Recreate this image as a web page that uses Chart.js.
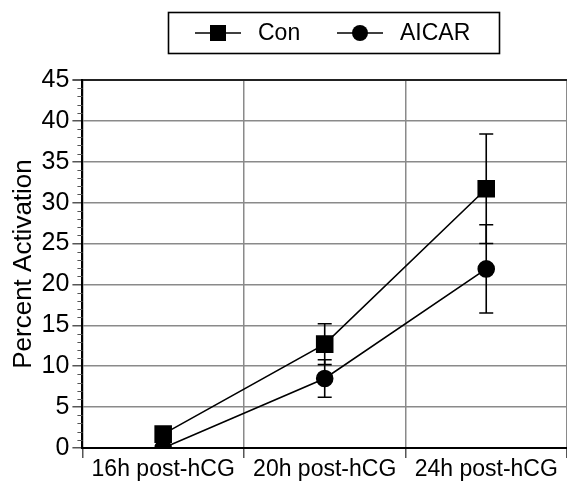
<!DOCTYPE html>
<html>
<head>
<meta charset="utf-8">
<script src="https://cdn.jsdelivr.net/npm/chart.js@4.4.0/dist/chart.umd.min.js"></script>
<style>
  html, body { margin: 0; padding: 0; background: #fff; overflow: hidden; }
  #wrap { width: 567px; height: 483px; position: relative; }
  canvas { display: block; }
</style>
</head>
<body>
<div id="wrap"><canvas id="chart"></canvas></div>
<script>
var labels = ['16h post-hCG', '20h post-hCG', '24h post-hCG'];
var conValues = [1.7, 12.7, 31.7];
var conErrors = [0.4, 2.5, 6.7];
var aicarValues = [0, 8.5, 21.9];
var aicarErrors = [0, 2.3, 5.4];
var yTicks = [0, 5, 10, 15, 20, 25, 30, 35, 40, 45];

var font = '"Liberation Sans", Arial, Helvetica, sans-serif';

// error bars drawn from the data arrays through the scales
var errorBars = {
    id: 'errorBars',
    afterDatasetsDraw: function (chart) {
        var ctx = chart.ctx;
        var y = chart.scales.y;
        ctx.save();
        ctx.strokeStyle = '#000';
        ctx.lineWidth = 1.6;
        chart.data.datasets.forEach(function (ds, i) {
            var meta = chart.getDatasetMeta(i);
            meta.data.forEach(function (pt, j) {
                var err = ds.errors[j];
                if (!err) return;
                var top = y.getPixelForValue(ds.data[j] + err);
                var bot = y.getPixelForValue(ds.data[j] - err);
                ctx.beginPath();
                ctx.moveTo(pt.x, top); ctx.lineTo(pt.x, bot);
                ctx.moveTo(pt.x - 7, top); ctx.lineTo(pt.x + 7, top);
                ctx.moveTo(pt.x - 7, bot); ctx.lineTo(pt.x + 7, bot);
                ctx.stroke();
            });
        });
        ctx.restore();
    }
};

// minor ticks on the y axis, one per unit
var minorTicks = {
    id: 'minorTicks',
    afterDraw: function (chart) {
        var ctx = chart.ctx;
        var y = chart.scales.y;
        var x0 = chart.chartArea.left;
        ctx.save();
        ctx.strokeStyle = '#555';
        ctx.lineWidth = 1;
        for (var v = y.min; v <= y.max; v++) {
            if (v % 5 === 0) continue;
            var py = Math.round(y.getPixelForValue(v)) + 0.5;
            ctx.beginPath();
            ctx.moveTo(x0 - 5, py); ctx.lineTo(x0, py);
            ctx.stroke();
        }
        ctx.restore();
    }
};

// boxed legend with line + marker samples
var boxLegend = {
    id: 'boxLegend',
    afterDraw: function (chart) {
        var ctx = chart.ctx;
        ctx.save();
        ctx.strokeStyle = '#000';
        ctx.lineWidth = 1.6;
        ctx.strokeRect(168.5, 12.5, 331, 41);
        var items = [
            { lineX: 195, text: 258 },
            { lineX: 337, text: 400 }
        ];
        chart.data.datasets.forEach(function (ds, i) {
            var it = items[i];
            var cy = 33;
            ctx.strokeStyle = '#000';
            ctx.lineWidth = 1.6;
            ctx.beginPath();
            ctx.moveTo(it.lineX, cy); ctx.lineTo(it.lineX + 46, cy);
            ctx.stroke();
            ctx.fillStyle = '#000';
            if (ds.pointStyle === 'rect') {
                ctx.fillRect(it.lineX + 15, cy - 8, 16, 16);
            } else {
                ctx.beginPath();
                ctx.arc(it.lineX + 23, cy, 8, 0, Math.PI * 2);
                ctx.fill();
            }
            ctx.font = '23px ' + font;
            ctx.textBaseline = 'middle';
            ctx.fillText(ds.label, it.text, cy + 1);
        });
        ctx.restore();
    }
};

var ctx = document.getElementById('chart').getContext('2d');
var myChart = new Chart(ctx, {
    type: 'line',
    data: {
        labels: labels,
        datasets: [{
            label: 'Con',
            data: conValues,
            errors: conErrors,
            borderColor: '#000',
            backgroundColor: '#000',
            borderWidth: 1.6,
            pointStyle: 'rect',
            pointRadius: 11.3,
            pointHoverRadius: 11.3,
            tension: 0
        }, {
            label: 'AICAR',
            data: aicarValues,
            errors: aicarErrors,
            borderColor: '#000',
            backgroundColor: '#000',
            borderWidth: 1.6,
            pointStyle: 'circle',
            pointRadius: 8,
            pointHoverRadius: 8,
            tension: 0
        }]
    },
    options: {
        responsive: true,
        maintainAspectRatio: false,
        animation: false,
        layout: { autoPadding: false, padding: { top: 80, right: 0, left: 10, bottom: 2 } },
        plugins: {
            legend: { display: false },
            tooltip: { enabled: false }
        },
        scales: {
            x: {
                offset: true,
                afterFit: function (axis) {
                    axis.paddingLeft = 0;
                    axis.paddingRight = 0;
                },
                grid: {
                    offset: true,
                    color: '#8a8a8a',
                    lineWidth: 1.5,
                    tickLength: 10,
                    tickColor: '#555'
                },
                border: { color: '#000', width: 2 },
                ticks: {
                    color: '#000',
                    padding: 0,
                    font: { family: font, size: 23, lineHeight: 1 }
                }
            },
            y: {
                min: 0,
                max: 45,
                afterBuildTicks: function (axis) {
                    axis.ticks = yTicks.map(function (v) { return { value: v }; });
                },
                grid: {
                    color: function (c) { return c.tick && c.tick.value === 45 ? '#222' : '#8a8a8a'; },
                    lineWidth: function (c) { return c.tick && c.tick.value === 45 ? 2 : 1.5; },
                    tickLength: 10,
                    tickColor: '#555'
                },
                border: { color: '#000', width: 2 },
                ticks: {
                    color: '#000',
                    padding: 3,
                    font: { family: font, size: 25 }
                },
                title: {
                    display: true,
                    text: 'Percent Activation',
                    color: '#000',
                    padding: { top: 0, bottom: 0 },
                    font: { family: font, size: 26, lineHeight: 1.1 }
                }
            }
        }
    },
    plugins: [errorBars, minorTicks, boxLegend]
});
</script>
</body>
</html>
